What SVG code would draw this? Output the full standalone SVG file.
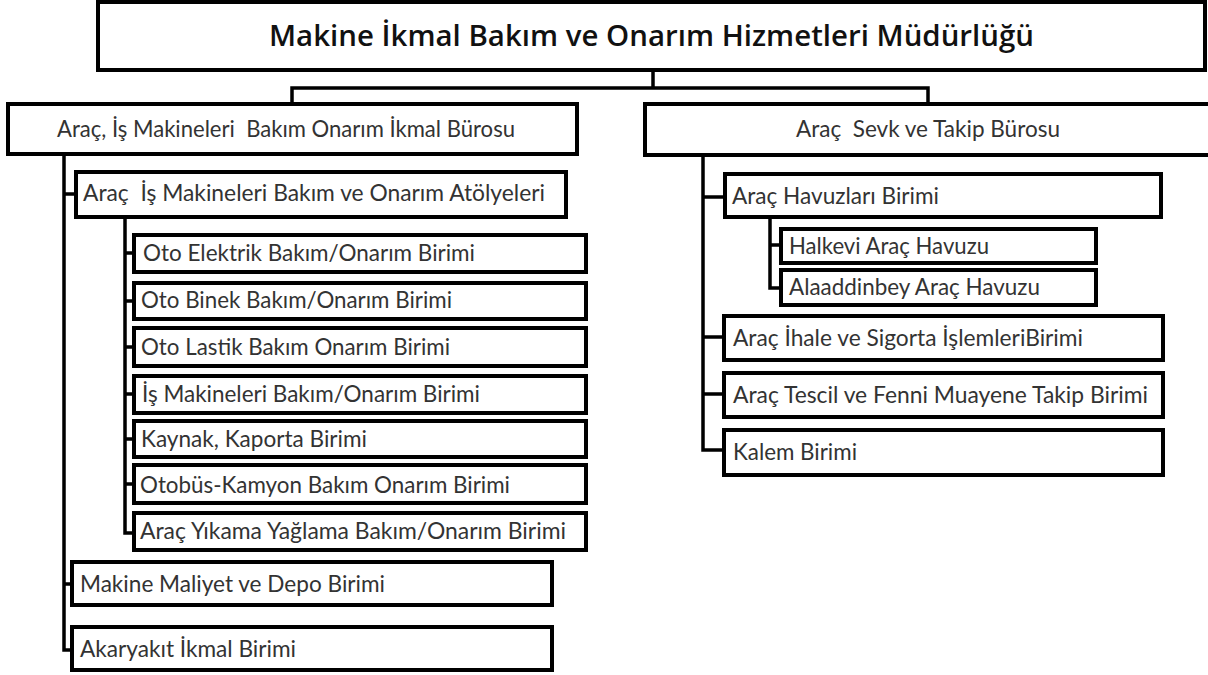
<svg xmlns="http://www.w3.org/2000/svg" width="1208" height="675" viewBox="0 0 1208 675">
<style>
.box{fill:#fff;stroke:#000;stroke-width:4}
.con{fill:none;stroke:#000;stroke-width:3.5}
.t{font-family:Lato,"Liberation Sans",sans-serif;font-size:24px;fill:#333;white-space:pre}
.title{font-family:"Open Sans","Liberation Sans",sans-serif;font-size:29px;font-weight:600;fill:#111}
</style>
<rect width="1208" height="675" fill="#fff"/>
<g id="connectors">
<path class="con" d="M653 70V88M292 104V88H928V104"/>
<path class="con" d="M64 154V650H72M64 194H76M64 584H72"/>
<path class="con" d="M125 217V533H134M125 253H134M125 301H134M125 347H134M125 394H134M125 439H134M125 484H134"/>
<path class="con" d="M703 155V450H724M703 197H725M703 337H724M703 394H724"/>
<path class="con" d="M770 217V288H781M770 245H781"/>
</g>
<g id="n-root"><rect class="box" x="98" y="2" width="1107" height="68"/><text class="title" x="269" y="46" textLength="765" lengthAdjust="spacingAndGlyphs">Makine İkmal Bakım ve Onarım Hizmetleri Müdürlüğü</text></g>
<g id="n-left"><rect class="box" x="8" y="104" width="569" height="50"/><text class="t" x="57" y="137" textLength="458" lengthAdjust="spacingAndGlyphs">Araç, İş Makineleri  Bakım Onarım İkmal Bürosu</text></g>
<g id="n-right"><rect class="box" x="645" y="104" width="570" height="51"/><text class="t" x="796" y="137" textLength="264" lengthAdjust="spacingAndGlyphs">Araç  Sevk ve Takip Bürosu</text></g>
<g id="n-atolye"><rect class="box" x="76" y="172" width="490" height="45"/><text class="t" x="83" y="201" textLength="462" lengthAdjust="spacingAndGlyphs">Araç  İş Makineleri Bakım ve Onarım Atölyeleri</text></g>
<g id="n-elektrik"><rect class="box" x="134" y="235" width="452" height="37"/><text class="t" x="143" y="261" textLength="332" lengthAdjust="spacingAndGlyphs">Oto Elektrik Bakım/Onarım Birimi</text></g>
<g id="n-binek"><rect class="box" x="134" y="283" width="452" height="36"/><text class="t" x="141" y="308" textLength="311" lengthAdjust="spacingAndGlyphs">Oto Binek Bakım/Onarım Birimi</text></g>
<g id="n-lastik"><rect class="box" x="134" y="328" width="452" height="38"/><text class="t" x="141" y="355" textLength="309" lengthAdjust="spacingAndGlyphs">Oto Lastik Bakım Onarım Birimi</text></g>
<g id="n-ismak"><rect class="box" x="134" y="376" width="452" height="37"/><text class="t" x="142" y="402" textLength="338" lengthAdjust="spacingAndGlyphs">İş Makineleri Bakım/Onarım Birimi</text></g>
<g id="n-kaynak"><rect class="box" x="134" y="421" width="452" height="36"/><text class="t" x="141" y="447" textLength="226" lengthAdjust="spacingAndGlyphs">Kaynak, Kaporta Birimi</text></g>
<g id="n-otobus"><rect class="box" x="134" y="465" width="452" height="38"/><text class="t" x="140" y="493" textLength="370" lengthAdjust="spacingAndGlyphs">Otobüs-Kamyon Bakım Onarım Birimi</text></g>
<g id="n-yikama"><rect class="box" x="134" y="513" width="452" height="37"/><text class="t" x="140" y="539" textLength="426" lengthAdjust="spacingAndGlyphs">Araç Yıkama Yağlama Bakım/Onarım Birimi</text></g>
<g id="n-maliyet"><rect class="box" x="72" y="562" width="480" height="43"/><text class="t" x="80" y="592" textLength="305" lengthAdjust="spacingAndGlyphs">Makine Maliyet ve Depo Birimi</text></g>
<g id="n-akaryakit"><rect class="box" x="72" y="627" width="480" height="43"/><text class="t" x="80" y="657" textLength="216" lengthAdjust="spacingAndGlyphs">Akaryakıt İkmal Birimi</text></g>
<g id="n-havuz"><rect class="box" x="725" y="174" width="436" height="43"/><text class="t" x="732" y="204" textLength="207" lengthAdjust="spacingAndGlyphs">Araç Havuzları Birimi</text></g>
<g id="n-halkevi"><rect class="box" x="781" y="229" width="315" height="34"/><text class="t" x="789" y="254" textLength="200" lengthAdjust="spacingAndGlyphs">Halkevi Araç Havuzu</text></g>
<g id="n-alaaddin"><rect class="box" x="781" y="270" width="315" height="35"/><text class="t" x="789" y="295" textLength="251" lengthAdjust="spacingAndGlyphs">Alaaddinbey Araç Havuzu</text></g>
<g id="n-ihale"><rect class="box" x="724" y="316" width="439" height="44"/><text class="t" x="733" y="346" textLength="350" lengthAdjust="spacingAndGlyphs">Araç İhale ve Sigorta İşlemleriBirimi</text></g>
<g id="n-tescil"><rect class="box" x="724" y="373" width="439" height="44"/><text class="t" x="733" y="403" textLength="415" lengthAdjust="spacingAndGlyphs">Araç Tescil ve Fenni Muayene Takip Birimi</text></g>
<g id="n-kalem"><rect class="box" x="724" y="430" width="439" height="45"/><text class="t" x="733" y="460" textLength="124" lengthAdjust="spacingAndGlyphs">Kalem Birimi</text></g>
</svg>
